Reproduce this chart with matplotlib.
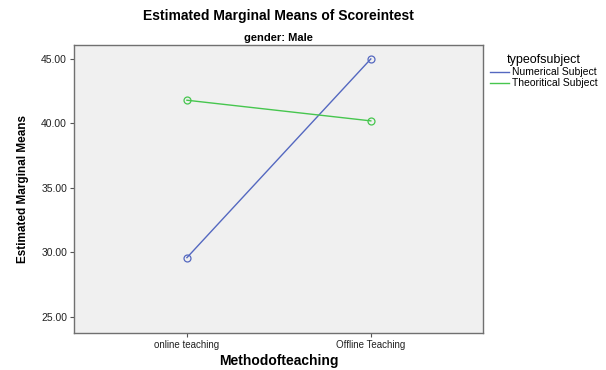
import matplotlib
matplotlib.use("Agg")
import matplotlib.pyplot as plt

# data
methods = ["online teaching", "Offline Teaching"]
numerical = [29.6, 45.0]
theoretical = [41.8, 40.2]
yticks = [25, 30, 35, 40, 45]

plt.rcParams["font.family"] = ["Liberation Sans", "DejaVu Sans"]

fig = plt.figure(figsize=(6.06, 3.70), dpi=100)
ax = fig.add_axes([74 / 606, 1 - 333 / 370, (483 - 74) / 606, (333 - 45) / 370])
ax.set_facecolor("#f0f0f0")

x = list(range(len(methods)))
ax.plot(x, numerical, color="#5468c0", lw=1, marker="o", ms=5, mfc="none", mec="#5468c0", mew=0.9,
        label="Numerical Subject")
ax.plot(x, theoretical, color="#46c64e", lw=1, marker="o", ms=5, mfc="none", mec="#46c64e", mew=0.9,
        label="Theoritical Subject")

ax.set_xlim(-0.614, 1.61)
ax.set_ylim(23.76, 46.08)
ax.set_xticks(x)
ax.set_xticklabels(methods, fontsize=7, color="#222222")
ax.set_yticks(yticks)
ax.set_yticklabels([f"{v:.2f}" for v in yticks], fontsize=7.5, color="#222222")
ax.tick_params(length=3, width=0.8, color="#555555", pad=2)
for s in ax.spines.values():
    s.set_color("#707070")
    s.set_linewidth(1)

ax.set_xlabel("Methodofteaching", fontsize=10, fontweight="bold", labelpad=3)
ax.set_ylabel("Estimated Marginal Means", fontsize=8.5, fontweight="bold", labelpad=9)

fig.text(0.5 * (74 + 483) / 606, 1 - 16 / 370, "Estimated Marginal Means of Scoreintest",
         ha="center", va="center", fontsize=10, fontweight="bold")
fig.text(0.5 * (74 + 483) / 606, 1 - 38 / 370, "gender: Male",
         ha="center", va="center", fontsize=8, fontweight="bold")

leg = fig.legend(loc="upper left", bbox_to_anchor=(482 / 606, 1 - 46 / 370), frameon=False,
                 title="typeofsubject", fontsize=7.5, title_fontsize=9,
                 handlelength=1.8, handletextpad=0.3, labelspacing=0.1, borderpad=0.3)
for h in leg.legend_handles:
    h.set_marker("")

fig.savefig("out.png", dpi=100, facecolor="white")
